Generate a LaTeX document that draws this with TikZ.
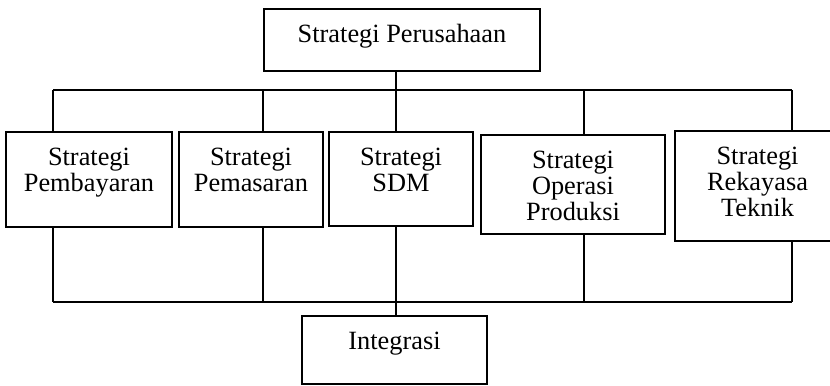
\documentclass[tikz,border=0pt]{standalone}
\usepackage{fontspec}
\setmainfont{Liberation Serif}
\usetikzlibrary{positioning}

\begin{document}
\begin{tikzpicture}[
        x=0.02cm, y=-0.02cm,
        every node/.style={font=\fontsize{15}{14.8}\selectfont},
        box/.style={rectangle, draw, line width=0.8pt, inner sep=0pt},
        txt/.style={anchor=north, align=center, inner sep=0pt, yshift=-0.32cm},
        line/.style={line width=0.8pt}
    ]
    \useasboundingbox (0,0) rectangle (830,385);

    % Nodes
    \node[box, minimum width=5.52cm, minimum height=1.24cm, label={[txt]north:Strategi Perusahaan}] (perusahaan) at (402,40) {};
    \node[box, minimum width=3.32cm, minimum height=1.9cm, label={[txt]north:{Strategi\\Pembayaran}}] (bayar) at (89,179.5) {};
    \node[box, minimum width=2.88cm, minimum height=1.9cm, label={[txt]north:{Strategi\\Pemasaran}}] (pasar) at (251,179.5) {};
    \node[box, minimum width=2.88cm, minimum height=1.88cm, label={[txt]north:{Strategi\\SDM}}] (sdm) at (401,179) {};
    \node[box, minimum width=3.68cm, minimum height=1.98cm, label={[txt]north:{Strategi\\Operasi\\Produksi}}] (operasi) at (573,184.5) {};
    \node[box, minimum width=3.3cm, minimum height=2.2cm, label={[txt]north:{Strategi\\Rekayasa\\Teknik}}] (rekayasa) at (757.5,186) {};
    \node[box, minimum width=3.7cm, minimum height=1.36cm, label={[txt]north:Integrasi}] (integrasi) at (394.5,350) {};

    % Lines
    \foreach \name/\xx in {bayar/53, pasar/263, sdm/396, operasi/584, rekayasa/792}{
        \coordinate (\name-up) at (\xx,90);
        \coordinate (\name-dn) at (\xx,302);
        \draw[line] (\name-up) -- (\name-up |- \name.north);
        \draw[line] (\name-dn |- \name.south) -- (\name-dn);
    }
    \draw[line] (bayar-up) -- (rekayasa-up);
    \draw[line] (bayar-dn) -- (rekayasa-dn);
    \draw[line] (perusahaan.south -| sdm-up) -- (sdm-up);
    \draw[line] (sdm-dn) -- (integrasi.north -| sdm-dn);
\end{tikzpicture}
\end{document}
